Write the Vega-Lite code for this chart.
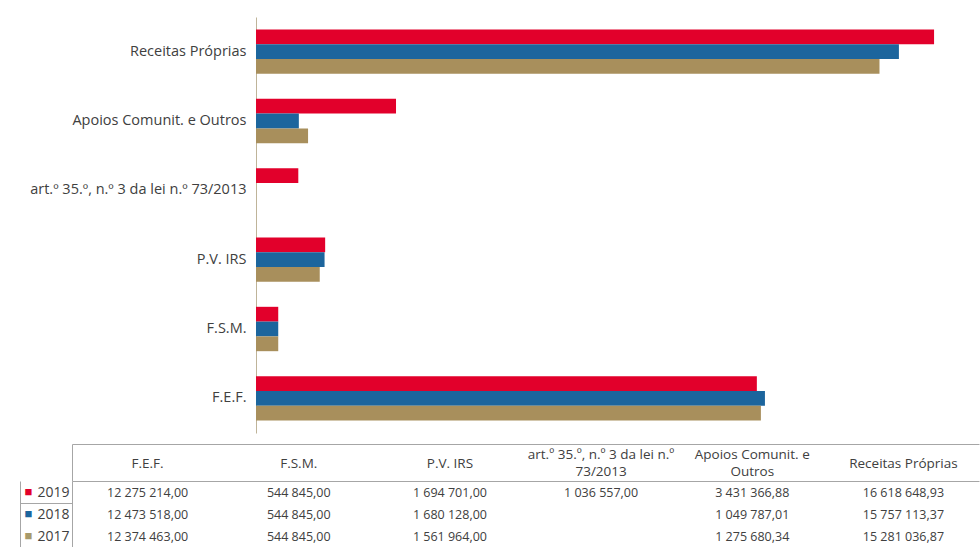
{
  "$schema": "https://vega.github.io/schema/vega-lite/v6.json",
  "padding": {"left": 19, "top": 17, "right": 0, "bottom": 0},
  "autosize": {"type": "pad"},
  "background": "white",
  "config": {"view": {"stroke": null}, "font": "Open Sans"},
  "spacing": 10,
  "datasets": {
    "d": [
      {"category": "F.E.F.", "year": "2019", "value": 12275214.00, "label": "12 275 214,00"},
      {"category": "F.E.F.", "year": "2018", "value": 12473518.00, "label": "12 473 518,00"},
      {"category": "F.E.F.", "year": "2017", "value": 12374463.00, "label": "12 374 463,00"},
      {"category": "F.S.M.", "year": "2019", "value": 544845.00, "label": "544 845,00"},
      {"category": "F.S.M.", "year": "2018", "value": 544845.00, "label": "544 845,00"},
      {"category": "F.S.M.", "year": "2017", "value": 544845.00, "label": "544 845,00"},
      {"category": "P.V. IRS", "year": "2019", "value": 1694701.00, "label": "1 694 701,00"},
      {"category": "P.V. IRS", "year": "2018", "value": 1680128.00, "label": "1 680 128,00"},
      {"category": "P.V. IRS", "year": "2017", "value": 1561964.00, "label": "1 561 964,00"},
      {"category": "art.º 35.º, n.º 3 da lei n.º 73/2013", "year": "2019", "value": 1036557.00, "label": "1 036 557,00"},
      {"category": "art.º 35.º, n.º 3 da lei n.º 73/2013", "year": "2018", "value": null, "label": ""},
      {"category": "art.º 35.º, n.º 3 da lei n.º 73/2013", "year": "2017", "value": null, "label": ""},
      {"category": "Apoios Comunit. e Outros", "year": "2019", "value": 3431366.88, "label": "3 431 366,88"},
      {"category": "Apoios Comunit. e Outros", "year": "2018", "value": 1049787.01, "label": "1 049 787,01"},
      {"category": "Apoios Comunit. e Outros", "year": "2017", "value": 1275680.34, "label": "1 275 680,34"},
      {"category": "Receitas Próprias", "year": "2019", "value": 16618648.93, "label": "16 618 648,93"},
      {"category": "Receitas Próprias", "year": "2018", "value": 15757113.37, "label": "15 757 113,37"},
      {"category": "Receitas Próprias", "year": "2017", "value": 15281036.87, "label": "15 281 036,87"}
    ]
  },
  "data": {"name": "d"},
  "vconcat": [
    {
      "width": 907,
      "height": 416,
      "mark": {"type": "bar"},
      "encoding": {
        "y": {
          "field": "category", "type": "nominal",
          "sort": ["Receitas Próprias", "Apoios Comunit. e Outros", "art.º 35.º, n.º 3 da lei n.º 73/2013", "P.V. IRS", "F.S.M.", "F.E.F."],
          "scale": {"paddingInner": 0.36, "paddingOuter": 0.18},
          "axis": {"title": null, "orient": "left", "offset": -184, "domainColor": "#bfb499", "ticks": false, "tickSize": 0, "labelPadding": 10, "labelFontSize": 14.5, "labelColor": "#404040", "labelLimit": 400, "labelFont": "Open Sans"}
        },
        "yOffset": {"field": "year", "type": "nominal", "sort": ["2019", "2018", "2017"], "scale": {"paddingInner": 0, "paddingOuter": 0}},
        "x": {"field": "value", "type": "quantitative", "scale": {"domain": [-4510000, 17720000], "nice": false, "zero": false}, "axis": null},
        "x2": {"datum": 0},
        "color": {"field": "year", "type": "nominal", "scale": {"domain": ["2019", "2018", "2017"], "range": ["#e2002b", "#1c659d", "#a88f5c"]}, "legend": null}
      }
    },
    {
      "width": 907,
      "height": 66,
      "layer": [
        {
          "mark": {"type": "text", "fontSize": 12.5, "color": "#404040", "font": "Open Sans", "baseline": "middle", "dy": 1},
          "encoding": {
            "x": {
              "field": "category", "type": "nominal",
              "sort": ["F.E.F.", "F.S.M.", "P.V. IRS", "art.º 35.º, n.º 3 da lei n.º 73/2013", "Apoios Comunit. e Outros", "Receitas Próprias"],
              "scale": {"paddingInner": 0, "paddingOuter": 0},
              "axis": {"orient": "top", "title": null, "domainColor": "#a6a6a6", "ticks": false, "tickSize": 0,
                "labelPadding": {"condition": {"test": "datum.value === 'art.º 35.º, n.º 3 da lei n.º 73/2013' || datum.value === 'Apoios Comunit. e Outros'", "value": 27}, "value": 18},
                "labelBaseline": "middle", "labelLineHeight": 17, "labelAngle": 0, "labelFontSize": 13.5, "labelColor": "#404040", "labelFont": "Open Sans", "labelLimit": 220,
                "labelExpr": "datum.value === 'art.º 35.º, n.º 3 da lei n.º 73/2013' ? ['art.º 35.º, n.º 3 da lei n.º', '73/2013'] : datum.value === 'Apoios Comunit. e Outros' ? ['Apoios Comunit. e', 'Outros'] : datum.value"}
            },
            "y": {
              "field": "year", "type": "nominal", "sort": ["2019", "2018", "2017"],
              "scale": {"paddingInner": 0, "paddingOuter": 0},
              "axis": {"orient": "left", "title": null, "domainColor": "#a6a6a6", "ticks": true, "tickBand": "extent", "tickSize": 52,
                "tickColor": {"condition": {"test": "datum.value === '2019'", "value": "#a6a6a6"}, "value": "transparent"},
                "labelPadding": -49, "labelFontSize": 14, "labelColor": "#404040", "labelFont": "Open Sans"}
            },
            "text": {"field": "label", "type": "nominal"}
          }
        },
        {
          "mark": {"type": "point", "opacity": 0},
          "encoding": {
            "x": {
              "field": "category", "type": "nominal",
              "sort": ["F.E.F.", "F.S.M.", "P.V. IRS", "art.º 35.º, n.º 3 da lei n.º 73/2013", "Apoios Comunit. e Outros", "Receitas Próprias"],
              "axis": {"orient": "top", "offset": 37, "title": null, "labels": false, "domainColor": "#a6a6a6", "ticks": true, "tickBand": "extent", "tickSize": -37,
                "tickColor": {"condition": {"test": "datum.extra", "value": "#a6a6a6"}, "value": "transparent"}}
            },
            "y": {
              "field": "year", "type": "nominal", "sort": ["2019", "2018", "2017"],
              "axis": {"orient": "left", "offset": 52, "title": null, "domainColor": "#a6a6a6", "ticks": false, "tickSize": 0,
                "labelExpr": "'■'", "labelAlign": "left", "labelPadding": -4, "labelFontSize": 13,
                "labelColor": {"condition": [{"test": "datum.value === '2019'", "value": "#e2002b"}, {"test": "datum.value === '2018'", "value": "#1c659d"}], "value": "#a89a6a"}}
            }
          }
        }
      ],
      "resolve": {"axis": {"x": "independent", "y": "independent"}}
    }
  ]
}
